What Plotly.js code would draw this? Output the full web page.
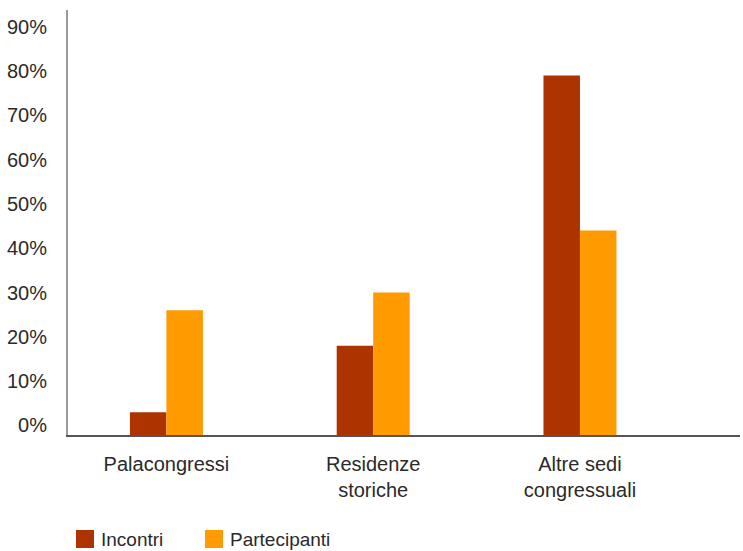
<!DOCTYPE html>
<html>
<head>
<meta charset="utf-8">
<script src="https://cdn.plot.ly/plotly-3.0.1.min.js"></script>
<style>html,body{margin:0;padding:0;background:#fff;}#chart{width:743px;height:551px;}</style>
</head>
<body>
<div id="chart"></div>
<script>
// Data (percent)
const categories = ["Palacongressi", "Residenze<br>storiche", "Altre sedi<br>congressuali"];
const seriesNames = ["Incontri", "Partecipanti"];
const incontri = [3, 18, 79];
const partecipanti = [26, 30, 44];
const yTickValues = [0, 10, 20, 30, 40, 50, 60, 70, 80, 90];
const yTickLabels = ["0%", "10%", "20%", "30%", "40%", "50%", "60%", "70%", "80%", "90%"];

// Layout / style constants
const seriesColors = ['#AD3300', '#FF9A00'];
const axisFloor = -2.15;   // bars rise from the axis line, slightly below 0
const axisTop = 93.8;
const FONT = '"Liberation Sans", Arial, sans-serif';
const TEXT_COLOR = '#2a2a2a';
const W = 743, H = 551;
const M = { l: 68, r: 3, t: 10, b: 116 };
const plotW = W - M.l - M.r, plotH = H - M.t - M.b;
const px2x = px => (px - M.l) / plotW;
const px2y = py => (H - M.b - py) / plotH;

function barTrace(name, values, color) {
  return {
    type: 'bar',
    name: name,
    x: categories,
    y: values.map(v => v - axisFloor),
    base: axisFloor,
    marker: { color: color, line: { width: 0 } },
    hoverinfo: 'skip',
    showlegend: false
  };
}

const data = [
  barTrace(seriesNames[0], incontri, seriesColors[0]),
  barTrace(seriesNames[1], partecipanti, seriesColors[1])
];

// Custom legend (large square swatches like the original)
const legendStarts = [76, 205];
const swatch = 18, legendMidY = 539;
const shapes = [], annotations = [];
seriesNames.forEach((n, i) => {
  const x0 = legendStarts[i];
  shapes.push({
    type: 'rect', xref: 'paper', yref: 'paper',
    x0: px2x(x0), x1: px2x(x0 + swatch),
    y0: px2y(legendMidY + swatch / 2), y1: px2y(legendMidY - swatch / 2),
    fillcolor: seriesColors[i], line: { width: 0 }
  });
  annotations.push({
    xref: 'paper', yref: 'paper',
    x: px2x(x0 + swatch + 5), y: px2y(legendMidY),
    xanchor: 'left', yanchor: 'middle',
    text: n, showarrow: false,
    font: { family: FONT, size: 19, color: TEXT_COLOR }
  });
});

const layout = {
  width: W,
  height: H,
  margin: M,
  paper_bgcolor: '#ffffff',
  plot_bgcolor: '#ffffff',
  font: { family: FONT, size: 20, color: TEXT_COLOR },
  barmode: 'group',
  bargap: 0.647,
  bargroupgap: 0,
  showlegend: false,
  shapes: shapes,
  annotations: annotations,
  xaxis: {
    type: 'category',
    range: [-0.476, 2.774],
    automargin: false,
    showgrid: false,
    zeroline: false,
    showline: true,
    linecolor: '#555555',
    linewidth: 2,
    ticks: '',
    ticklabelstandoff: 10,
    tickfont: { family: FONT, size: 20, color: TEXT_COLOR },
    fixedrange: true
  },
  yaxis: {
    range: [axisFloor, axisTop],
    automargin: false,
    tickvals: yTickValues,
    ticktext: yTickLabels,
    showgrid: false,
    zeroline: false,
    showline: true,
    linecolor: '#999999',
    linewidth: 2,
    ticks: '',
    ticklabelstandoff: 15,
    tickfont: { family: FONT, size: 20, color: TEXT_COLOR },
    fixedrange: true
  }
};

Plotly.newPlot('chart', data, layout, { displayModeBar: false, staticPlot: true });
</script>
</body>
</html>
